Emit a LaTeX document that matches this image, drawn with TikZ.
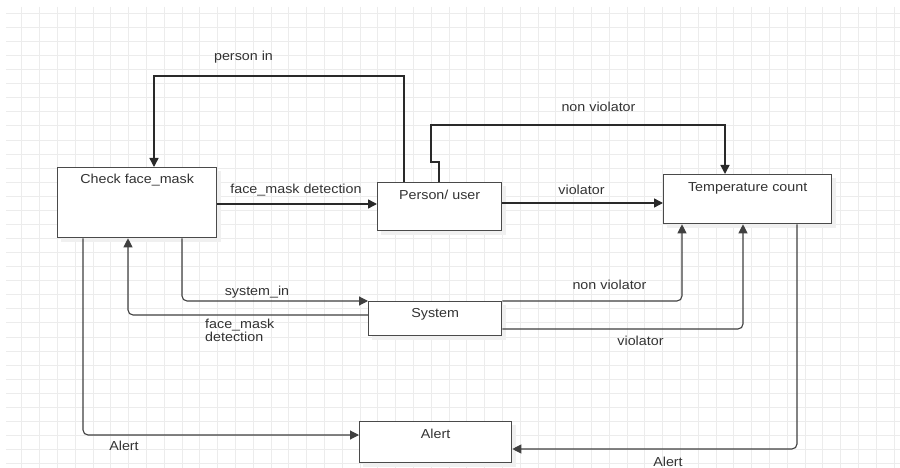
\documentclass[tikz,border=0pt]{standalone}
\usepackage{fontspec}
\setmainfont[FakeStretch=1.1]{Liberation Sans}
\usetikzlibrary{arrows.meta,calc}
\definecolor{ln}{HTML}{2A2A2A}
\definecolor{lnlight}{HTML}{404040}
\definecolor{bx}{HTML}{4A4A4A}
\definecolor{gridc}{HTML}{ECECEC}
\definecolor{tx}{HTML}{333333}
\begin{document}
\begin{tikzpicture}[x=1pt,y=-1pt,
  gridline/.style={draw=gridc, line width=0.8pt},
  box/.style={draw=bx, line width=1.3pt, fill=white, anchor=north west, inner sep=0pt},
  boxshadow/.style={fill=black!6},
  arr/.style={draw=ln, line width=1.4pt, -{Triangle[length=9pt,width=9pt]}},
  arrl/.style={draw=lnlight, line width=1.1pt, -{Triangle[length=9pt,width=9pt]}},
  rc/.style={rounded corners=5pt},
  lbl/.style={text=tx, font=\fontsize{13}{14}\selectfont, inner sep=0pt},
  boxlbl/.style={anchor=center, yshift=-13pt, text=tx, font=\fontsize{13}{14}\selectfont, inner sep=0pt}
]
\useasboundingbox (0,0) rectangle (900,468);
\fill[white] (0,0) rectangle (900,468);
% grid
\foreach \i in {0,...,49} \draw[gridline] ({21.7+17.8*\i},7) -- ({21.7+17.8*\i},468);
\foreach \j in {0,...,32} \draw[gridline] (6,{13.3+14.07*\j}) -- (900,{13.3+14.07*\j});

% shadows
\fill[boxshadow] (61,171) rectangle (221,242);
\fill[boxshadow] (381,186) rectangle (506,235);
\fill[boxshadow] (667,178) rectangle (836,228);
\fill[boxshadow] (372,305) rectangle (506,340);
\fill[boxshadow] (363,425) rectangle (516,467);

% boxes
\node[box, minimum width=159pt, minimum height=70pt,
  label={[boxlbl]north:Check face\_mask}] (check) at (57,167) {};
\node[box, minimum width=124pt, minimum height=48pt,
  label={[boxlbl]north:Person/ user}] (person) at (377,182) {};
\node[box, minimum width=168pt, minimum height=49pt,
  label={[boxlbl, yshift=-1pt]north:Temperature count}] (temp) at (663,174) {};
\node[box, minimum width=133pt, minimum height=34pt,
  label={[boxlbl]north:System}] (system) at (368,301) {};
\node[box, minimum width=152pt, minimum height=41pt,
  label={[boxlbl]north:Alert}] (alert) at (359,421) {};

% connectors
\draw[arr] (person.north -| 404,0) -- (404,76) -- (154,76) -- (check.north -| 154,0);
\draw[arr] (check.east |- 0,204) -- (person.west |- 0,204);
\draw[arr] (person.north -| 439,0) -- (439,162) -- (431,162) -- (431,125) -- (725,125) -- (temp.north -| 725,0);
\draw[arr] (person.east |- 0,203) -- (temp.west |- 0,203);
\draw[arrl, rc] (check.south -| 182,0) -- (182,301) -- (system.north west);
\draw[arrl, rc] (system.west |- 0,315) -- (128,315) -- (check.south -| 128,0);
\draw[arrl, rc] (system.north east) -- (682,301) -- (temp.south -| 682,0);
\draw[arrl, rc] (system.east |- 0,329) -- (743,329) -- (temp.south -| 743,0);
\draw[arrl, rc] (temp.south -| 797,0) -- (797,449) -- (alert.east |- 0,449);
\draw[arrl, rc] (check.south -| 83,0) -- (83,435) -- (alert.west |- 0,435);

% labels
\node[lbl] (l1) at (243.5,57.5) {person in};
\node[lbl] (l2) at (296,190.5) {face\_mask detection};
\node[lbl] (l3) at (598.5,106.5) {non violator};
\node[lbl] (l4) at (581.5,189.5) {violator};
\node[lbl] (l5) at (257,292) {system\_in};
\node[lbl, anchor=west, align=left, font=\fontsize{13}{10.5}\selectfont] (l6) at (205,330) {face\_mask\\detection};
\node[lbl] (l7) at (609.5,285) {non violator};
\node[lbl] (l8) at (640.5,341) {violator};
\node[lbl] (l9) at (124,446) {Alert};
\node[lbl] (l10) at (668,461.5) {Alert};
\end{tikzpicture}
\end{document}
